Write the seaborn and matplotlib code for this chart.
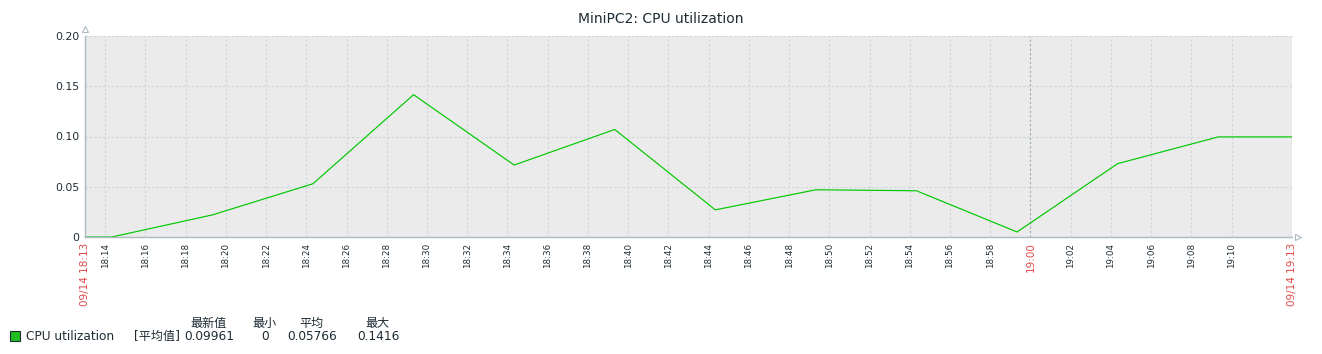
import pandas as pd
import numpy as np
import matplotlib
matplotlib.use("Agg")
import matplotlib.pyplot as plt
from matplotlib.patches import Rectangle
import seaborn as sns

# Data (5-minute samples, plus the line ends at the axis edges)
day = "2024-09-14"
times = ["18:13:00", "18:14:20", "18:19:20", "18:24:20", "18:29:20", "18:34:20", "18:39:20",
         "18:44:20", "18:49:20", "18:54:20", "18:59:20", "19:04:20", "19:09:20", "19:13:00"]
cpu = [0, 0, 0.022, 0.053, 0.1416, 0.0716, 0.107,
       0.027, 0.047, 0.046, 0.005, 0.073, 0.0996, 0.0996]

title = "MiniPC2: CPU utilization"
item_name = "CPU utilization"
item_func = "[平均值]"
stat_headers = ["最新值", "最小", "平均", "最大"]
stat_values = ["0.09961", "0", "0.05766", "0.1416"]

y_ticks = [0, 0.05, 0.10, 0.15, 0.20]
y_labels = ["0", "0.05", "0.10", "0.15", "0.20"]

df = pd.DataFrame({"time": pd.to_datetime([f"{day} {t}" for t in times]), "cpu": cpu})

sns.set_style("white")
plt.rcParams["font.family"] = ["DejaVu Sans", "Noto Sans CJK SC"]

text_col = "#1f2c33"
red = "#e04848"
grid_col = "#ccd5d9"
axis_col = "#acbbc2"
green = "#00c800"

fig = plt.figure(figsize=(13.22, 3.54), dpi=100)
ax = fig.add_axes([85 / 1322, 1 - 237 / 354, (1292 - 85) / 1322, (237 - 36) / 354])
ax.set_facecolor("#ebebeb")

sns.lineplot(data=df, x="time", y="cpu", color=green, linewidth=0.85, ax=ax)

start = pd.Timestamp(f"{day} 18:13")
end = pd.Timestamp(f"{day} 19:13")
ax.set_xlim(start, end)
ax.set_ylim(0, 0.2)

# x ticks every 2 minutes, plus the two edges
tick_times = list(pd.date_range(f"{day} 18:14", f"{day} 19:10", freq="2min"))
all_ticks = [start] + tick_times + [end]
labels = []
for t in all_ticks:
    if t == start or t == end:
        labels.append(t.strftime("%m/%d %H:%M"))
    else:
        labels.append(t.strftime("%H:%M"))
ax.set_xticks(all_ticks)
ax.set_xticklabels(labels, rotation=90, va="top", ha="center")
for t, lab in zip(all_ticks, ax.get_xticklabels()):
    if t == start or t == end or t.strftime("%H:%M") == "19:00":
        lab.set_color(red)
        lab.set_fontsize(7.5)
    else:
        lab.set_color(text_col)
        lab.set_fontsize(6.3)

ax.set_yticks(y_ticks)
ax.set_yticklabels(y_labels, fontsize=7.8, color=text_col)
ax.tick_params(axis="both", length=0, pad=4)
ax.set_xlabel("")
ax.set_ylabel("")

ax.grid(True, linestyle=(0, (2, 2)), color=grid_col, linewidth=0.8)
for t, gl in zip(all_ticks, ax.xaxis.get_gridlines()):
    if t.strftime("%H:%M") == "19:00":
        gl.set_color("#9aa8b0")
    if t == start:
        gl.set_visible(False)
for v, gl in zip(y_ticks, ax.yaxis.get_gridlines()):
    if v == 0:
        gl.set_visible(False)

for side in ["top", "right"]:
    ax.spines[side].set_visible(False)
for side in ["left", "bottom"]:
    ax.spines[side].set_color(axis_col)
    ax.spines[side].set_linewidth(1)

# axis arrows
ax.plot([0], [1.035], marker="^", markersize=5, markerfacecolor="white",
        markeredgecolor=axis_col, markeredgewidth=0.8, transform=ax.transAxes, clip_on=False)
ax.plot([1.005], [0], marker=">", markersize=5, markerfacecolor="white",
        markeredgecolor=axis_col, markeredgewidth=0.8, transform=ax.transAxes, clip_on=False)

fig.text(0.5, 1 - 19 / 354, title, ha="center", va="center", fontsize=10, color=text_col)

# legend
W, H = 1322, 354
fig.patches.append(Rectangle((10 / W, 1 - 341 / H), 10 / W, 10 / H, transform=fig.transFigure,
                             facecolor="#1ebe1e", edgecolor="#1f2c33", linewidth=0.8))
fig.text(26 / W, 1 - 336 / H, item_name, ha="left", va="center", fontsize=8.7, color=text_col)
fig.text(134 / W, 1 - 336 / H, item_func, ha="left", va="center", fontsize=8.7, color=text_col)
col_x = [209, 265, 312, 378]
for x, h, v in zip(col_x, stat_headers, stat_values):
    fig.text(x / W, 1 - 323 / H, h, ha="center", va="center", fontsize=8.7, color=text_col)
    fig.text(x / W, 1 - 336 / H, v, ha="center", va="center", fontsize=8.7, color=text_col)

fig.savefig("out.png", dpi=100)
